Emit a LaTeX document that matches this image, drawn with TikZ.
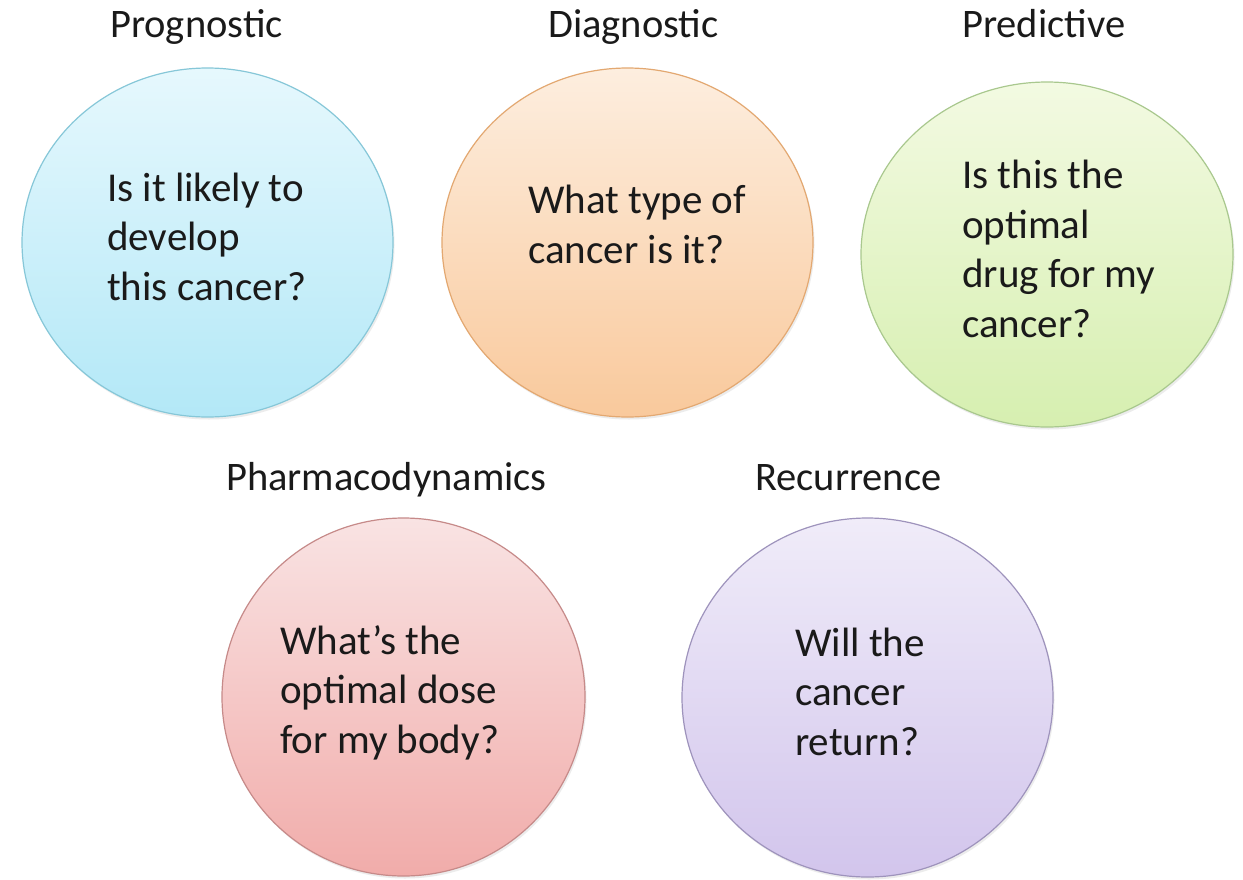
\documentclass[tikz,border=0pt]{standalone}
\usepackage{fontspec}
\setmainfont{Carlito}
\usetikzlibrary{shapes.geometric,shadows}
\definecolor{bluetop}{HTML}{E6F8FD}
\definecolor{bluebot}{HTML}{B3E8F7}
\definecolor{blueline}{HTML}{86C7D8}
\definecolor{orangetop}{HTML}{FDEEDF}
\definecolor{orangebot}{HTML}{F9C99C}
\definecolor{orangeline}{HTML}{E3A871}
\definecolor{greentop}{HTML}{F3FAE2}
\definecolor{greenbot}{HTML}{D6EFB0}
\definecolor{greenline}{HTML}{A9C88E}
\definecolor{pinktop}{HTML}{F9E3E3}
\definecolor{pinkbot}{HTML}{F1ACAA}
\definecolor{pinkline}{HTML}{C68A89}
\definecolor{purpletop}{HTML}{F0ECF9}
\definecolor{purplebot}{HTML}{D2C5EC}
\definecolor{purpleline}{HTML}{9E93BC}
\definecolor{ink}{HTML}{1A1A1A}
\begin{document}
\begin{tikzpicture}[x=1pt,y=-1pt,
  bubble/.style={ellipse, draw, line width=1.2pt, inner sep=0pt,
    drop shadow={opacity=0.15, shadow xshift=1.5pt, shadow yshift=-2.5pt}},
  lab/.style={anchor=base west, inner sep=0pt, font=\fontsize{40.5}{48}\selectfont, text=ink},
  qtext/.style={anchor=base west, inner sep=0pt, align=left, font=\fontsize{41}{49.5}\selectfont, text=ink}]
\useasboundingbox (0,0) rectangle (1243,879);
\fill[white] (0,0) rectangle (1243,879);

% bubbles
\node[bubble, draw=blueline, top color=bluetop, bottom color=bluebot,
  minimum width=371pt, minimum height=349pt] (prog) at (207.5,242.5) {};
\node[bubble, draw=orangeline, top color=orangetop, bottom color=orangebot,
  minimum width=371pt, minimum height=349pt] (diag) at (627.5,242.5) {};
\node[bubble, draw=greenline, top color=greentop, bottom color=greenbot,
  minimum width=372pt, minimum height=345pt] (pred) at (1047,254.5) {};
\node[bubble, draw=pinkline, top color=pinktop, bottom color=pinkbot,
  minimum width=363pt, minimum height=358pt] (pharm) at (403.5,697) {};
\node[bubble, draw=purpleline, top color=purpletop, bottom color=purplebot,
  minimum width=371pt, minimum height=359pt] (recur) at (867.5,697.5) {};

% labels
\node[lab] (lprog) at (110,37) {Prognostic};
\node[lab] (ldiag) at (548,37) {Diagnostic};
\node[lab] (lpred) at (962,37) {Predictive};
\node[lab] (lpharm) at (226,490) {Pharmacodynamics};
\node[lab] (lrecur) at (755,490) {Recurrence};

% questions (base anchor = baseline of the last line)
\node[qtext] (qprog) at (107,300) {Is it likely to\\develop\\this cancer?};
\node[qtext] (qdiag) at (528,263) {What type of\\cancer is it?};
\node[qtext] (qpred) at (962,337) {Is this the\\optimal\\drug for my\\cancer?};
\node[qtext] (qpharm) at (280,753) {What’s the\\optimal dose\\for my body?};
\node[qtext] (qrecur) at (795,755) {Will the\\cancer\\return?};
\end{tikzpicture}
\end{document}
